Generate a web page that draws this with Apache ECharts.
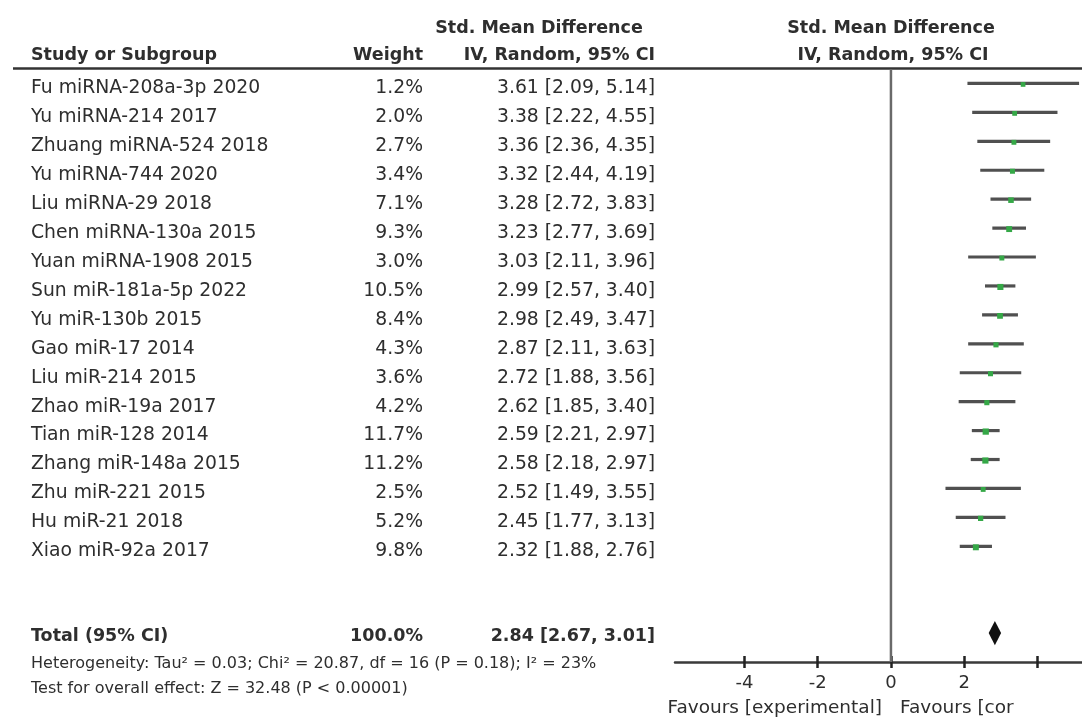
<!DOCTYPE html>
<html>
<head>
<meta charset="utf-8">
<script src="https://cdn.jsdelivr.net/npm/echarts@6/dist/echarts.min.js"></script>
<style>html,body{margin:0;padding:0;background:#fff}#c{width:1082px;height:725px}</style>
</head>
<body>
<div id="c"></div>
<script>
// ---- data ----
const studies = [
  'Fu miRNA-208a-3p 2020', 'Yu miRNA-214 2017', 'Zhuang miRNA-524 2018', 'Yu miRNA-744 2020',
  'Liu miRNA-29 2018', 'Chen miRNA-130a 2015', 'Yuan miRNA-1908 2015', 'Sun miR-181a-5p 2022',
  'Yu miR-130b 2015', 'Gao miR-17 2014', 'Liu miR-214 2015', 'Zhao miR-19a 2017',
  'Tian miR-128 2014', 'Zhang miR-148a 2015', 'Zhu miR-221 2015', 'Hu miR-21 2018', 'Xiao miR-92a 2017'
];
const weights = [1.2, 2.0, 2.7, 3.4, 7.1, 9.3, 3.0, 10.5, 8.4, 4.3, 3.6, 4.2, 11.7, 11.2, 2.5, 5.2, 9.8];
const smd     = [3.61, 3.38, 3.36, 3.32, 3.28, 3.23, 3.03, 2.99, 2.98, 2.87, 2.72, 2.62, 2.59, 2.58, 2.52, 2.45, 2.32];
const ciLower = [2.09, 2.22, 2.36, 2.44, 2.72, 2.77, 2.11, 2.57, 2.49, 2.11, 1.88, 1.85, 2.21, 2.18, 1.49, 1.77, 1.88];
const ciUpper = [5.14, 4.55, 4.35, 4.19, 3.83, 3.69, 3.96, 3.40, 3.47, 3.63, 3.56, 3.40, 2.97, 2.97, 3.55, 3.13, 2.76];

const totalLabel = 'Total (95% CI)';
const totalWeight = 100.0;
const totalSmd = 2.84;
const totalLower = 2.67;
const totalUpper = 3.01;
const totalRow = 19;

const xTicks = [-4, -2, 0, 2, 4];
const xTickLabels = [-4, -2, 0, 2];

const heterogeneityText = 'Heterogeneity: Tau\u00b2 = 0.03; Chi\u00b2 = 20.87, df = 16 (P = 0.18); I\u00b2 = 23%';
const overallText = 'Test for overall effect: Z = 32.48 (P < 0.00001)';
const favoursLeft = 'Favours [experimental]';
const favoursRight = 'Favours [cor';

// ---- chart ----
const FONT = 'DejaVu Sans';
const TXT = '#2e2e2e';
const GRID_TOP = 69, GRID_BOTTOM = 63, H = 725;
const chart = echarts.init(document.getElementById('c'), null, {renderer: 'canvas'});

const fmt2 = v => v.toFixed(2);
const rowsData = studies.map((s, i) => [i]);

function tableText(x, y, text, align, bold) {
  return {
    type: 'text',
    style: {
      x: x, y: y, text: text, fill: TXT,
      align: align, verticalAlign: 'middle',
      fontFamily: FONT, fontSize: bold ? 17.5 : 18.8, fontWeight: bold ? 'bold' : 'normal'
    }
  };
}
function headText(x, y, text, align) {
  return {type: 'text', x: x, y: y, silent: true,
    style: {text: text, fill: TXT, fontFamily: FONT, fontSize: 17.5, fontWeight: 'bold', align: align, verticalAlign: 'middle'}};
}
function noteText(x, y, text, align, size) {
  return {type: 'text', x: x, y: y, silent: true,
    style: {text: text, fill: TXT, fontFamily: FONT, fontSize: size, align: align, verticalAlign: 'middle'}};
}

const option = {
  backgroundColor: '#fff',
  animation: false,
  grid: [
    {left: 675, right: 0, top: GRID_TOP, bottom: GRID_BOTTOM},
    {left: 0, right: 0, top: GRID_TOP, bottom: GRID_BOTTOM}
  ],
  xAxis: [
    {
      gridIndex: 0, type: 'value', min: -5.9, max: 5.22, position: 'bottom',
      axisLine: {show: true, onZero: false, lineStyle: {color: '#3a3a3a', width: 2.5}},
      axisTick: {show: true, customValues: xTicks, length: 6, lineStyle: {color: '#222', width: 2.5}},
      axisLabel: {show: true, customValues: xTickLabels, margin: 12, color: TXT, fontSize: 18, fontFamily: FONT},
      splitLine: {show: false}
    },
    {
      // upper half of the crossing ticks, moved down onto the bottom axis line
      gridIndex: 0, type: 'value', min: -5.9, max: 5.22, position: 'top',
      offset: -(H - GRID_TOP - GRID_BOTTOM),
      axisLine: {show: false},
      axisTick: {show: true, inside: false, customValues: xTicks, length: 6, lineStyle: {color: '#222', width: 2.5}},
      axisLabel: {show: false},
      splitLine: {show: false}
    },
    {gridIndex: 1, type: 'value', min: 0, max: 1082, show: false}
  ],
  yAxis: [
    {gridIndex: 0, type: 'value', min: -0.5, max: 20, inverse: true, show: false},
    {gridIndex: 1, type: 'value', min: -0.5, max: 20, inverse: true, show: false}
  ],
  series: [
    {
      // line of no effect
      type: 'line', xAxisIndex: 0, yAxisIndex: 0, silent: true, symbol: 'none',
      data: [[0, -0.5], [0, 20]],
      lineStyle: {color: '#6a6a6a', width: 2.5}
    },
    {
      // study CIs and point estimates
      type: 'custom', xAxisIndex: 0, yAxisIndex: 0, silent: true,
      data: studies.map((s, i) => [ciLower[i], ciUpper[i], smd[i], i, weights[i]]),
      encode: {x: [0, 1], y: 3},
      renderItem: function (params, api) {
        const lo = api.coord([api.value(0), api.value(3)]);
        const hi = api.coord([api.value(1), api.value(3)]);
        const pt = api.coord([api.value(2), api.value(3)]);
        const s = 4.5 + api.value(4) * 0.15;
        return {
          type: 'group',
          children: [
            {type: 'line', shape: {x1: lo[0], y1: lo[1], x2: hi[0], y2: hi[1]},
             style: {stroke: '#505050', lineWidth: 3.2}},
            {type: 'rect', shape: {x: pt[0] - s / 2, y: pt[1] - s / 2 + 1, width: s, height: s},
             style: {fill: '#35a847'}}
          ]
        };
      }
    },
    {
      // pooled diamond
      type: 'custom', xAxisIndex: 0, yAxisIndex: 0, silent: true,
      data: [[totalLower, totalUpper, totalSmd, totalRow]],
      encode: {x: [0, 1], y: 3},
      renderItem: function (params, api) {
        const lo = api.coord([api.value(0), api.value(3)]);
        const hi = api.coord([api.value(1), api.value(3)]);
        const pt = api.coord([api.value(2), api.value(3)]);
        const h = api.size([0, 1])[1] * 0.42;
        return {
          type: 'polygon',
          shape: {points: [[lo[0], pt[1]], [pt[0], pt[1] - h], [hi[0], pt[1]], [pt[0], pt[1] + h]]},
          style: {fill: '#111'}
        };
      }
    },
    {
      // table text: studies
      type: 'custom', xAxisIndex: 2, yAxisIndex: 1, silent: true,
      data: rowsData,
      encode: {y: 0},
      renderItem: function (params, api) {
        const i = api.value(0);
        const y = api.coord([0, i])[1] + 5;
        return {
          type: 'group',
          children: [
            tableText(api.coord([31, i])[0], y, studies[i], 'left', false),
            tableText(api.coord([423, i])[0], y, weights[i].toFixed(1) + '%', 'right', false),
            tableText(api.coord([655, i])[0], y, fmt2(smd[i]) + ' [' + fmt2(ciLower[i]) + ', ' + fmt2(ciUpper[i]) + ']', 'right', false)
          ]
        };
      }
    },
    {
      // table text: total
      type: 'custom', xAxisIndex: 2, yAxisIndex: 1, silent: true,
      data: [[totalRow]],
      encode: {y: 0},
      renderItem: function (params, api) {
        const r = api.value(0);
        const y = api.coord([0, r])[1] + 3;
        return {
          type: 'group',
          children: [
            tableText(api.coord([31, r])[0], y, totalLabel, 'left', true),
            tableText(api.coord([423, r])[0], y, totalWeight.toFixed(1) + '%', 'right', true),
            tableText(api.coord([655, r])[0], y, fmt2(totalSmd) + ' [' + fmt2(totalLower) + ', ' + fmt2(totalUpper) + ']', 'right', true)
          ]
        };
      }
    }
  ],
  graphic: [
    {type: 'line', shape: {x1: 13, y1: 68.5, x2: 1082, y2: 68.5}, style: {stroke: '#333', lineWidth: 2.5}, silent: true},
    headText(539, 28, 'Std. Mean Difference', 'center'),
    headText(31, 55, 'Study or Subgroup', 'left'),
    headText(423, 55, 'Weight', 'right'),
    headText(655, 55, 'IV, Random, 95% CI', 'right'),
    headText(891, 28, 'Std. Mean Difference', 'center'),
    headText(893, 55, 'IV, Random, 95% CI', 'center'),
    noteText(31, 664, heterogeneityText, 'left', 16),
    noteText(31, 689, overallText, 'left', 16),
    noteText(882, 708, favoursLeft, 'right', 18.5),
    noteText(900, 708, favoursRight, 'left', 18.5)
  ]
};
chart.setOption(option);
</script>
</body>
</html>
